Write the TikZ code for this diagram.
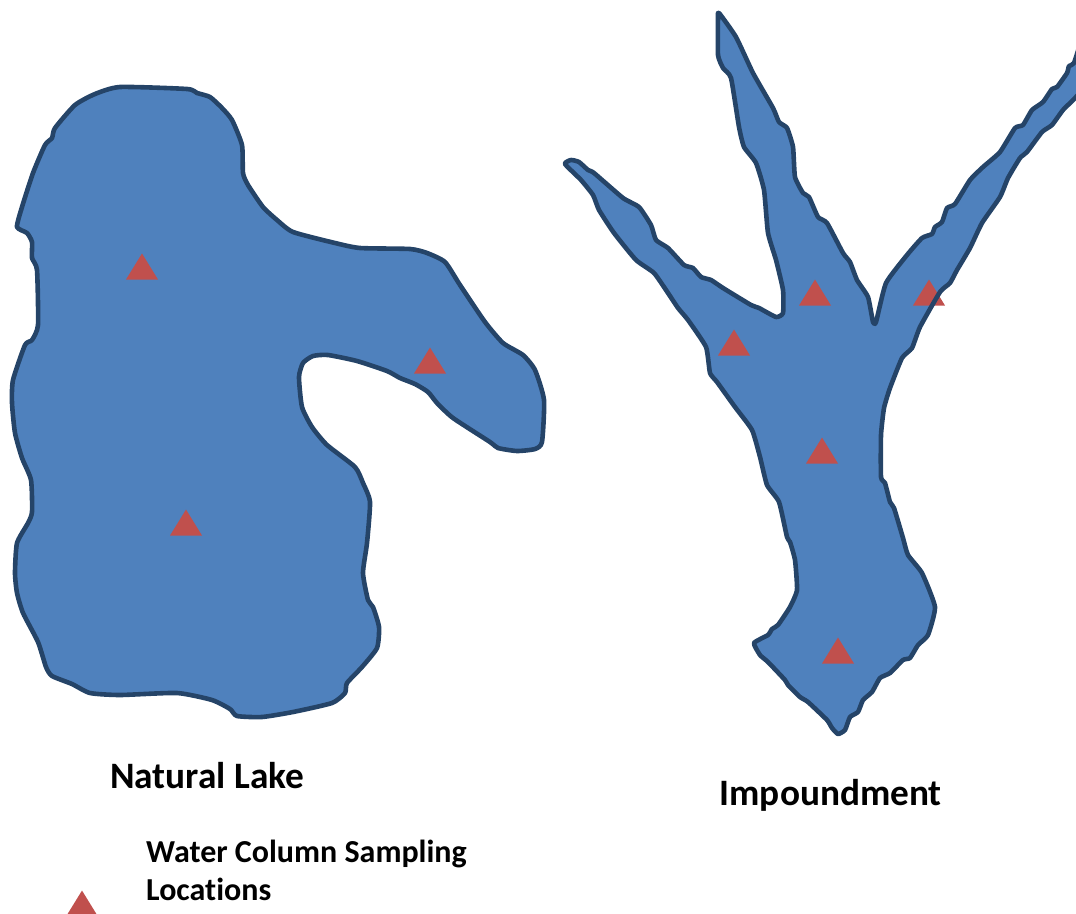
\documentclass[tikz,border=0pt]{standalone}
\usepackage{fontspec}
\setmainfont[Ligatures=NoCommon]{Carlito}
\usetikzlibrary{shapes.geometric}

\newcommand{\lakeshape}{plot[smooth cycle,tension=.35] coordinates {
    (120,87) (187,89) (197,93) (210,97) (222,108) (232,120) (242,145) (243,173) (248,185) (263,207) (277,220) (293,232)
    (335,243) (360,248) (410,249) (427,253) (445,262) (460,285) (485,322) (503,343) (523,355) (535,370) (544,400)
    (542,442) (535,449) (517,451) (498,448) (490,442) (453,418) (437,403) (428,392) (415,384) (400,378) (387,371)
    (357,361) (328,355) (313,356) (303,363) (299,377) (302,407) (312,427) (327,445) (355,467) (363,483) (370,502)
    (367,543) (363,573) (368,600) (373,607) (379,627) (377,648) (362,667) (347,683) (345,693) (332,703) (293,712)
    (262,717) (237,716) (230,709) (212,700) (177,693) (120,695) (90,693) (72,684) (52,676) (46,667) (38,642)
    (23,613) (17,593) (15,573) (17,543) (28,523) (32,512) (31,480) (22,458) (15,433) (12,403) (13,380) (25,345)
    (32,340) (38,325) (37,270) (32,258) (32,242) (27,233) (17,227) (22,207) (33,173) (45,145) (52,138) (55,128)
    (75,105) (95,94)}}
\newcommand{\impoundshape}{plot[smooth cycle,tension=.3] coordinates {
    (719,13) (736,37) (753,73) (773,108) (779,122) (787,128) (793,147) (795,177) (803,193) (809,197) (818,217)
    (827,223) (843,253) (850,262) (857,280) (868,297) (873,322) (876,322) (886,283) (907,255) (922,238) (932,234)
    (935,227) (942,222) (947,208) (955,204) (970,180) (983,167) (1000,152) (1015,128) (1023,125) (1032,110)
    (1043,102) (1052,89) (1057,87) (1067,73) (1069,66) (1074,63) (1084,35) (1088,80) (1076,97) (1063,110) (1052,125)
    (1042,132) (1027,152) (1020,158) (1008,178) (1000,197) (982,223) (970,248) (957,270) (950,283) (940,292)
    (920,327) (912,348) (902,358) (890,388) (884,408) (881,435) (881,477) (885,483) (890,502) (894,508) (903,538)
    (908,555) (922,573) (935,607) (928,635) (918,645) (910,658) (903,660) (890,673) (880,678) (872,692) (863,700)
    (858,712) (850,717) (845,730) (838,734) (832,728) (827,720) (808,702) (800,697) (788,685) (785,680) (768,662)
    (760,655) (754,643) (768,635) (772,629) (778,625) (790,607) (797,590) (795,560) (790,542) (787,537) (779,502)
    (767,485) (760,457) (752,430) (735,407) (717,382) (710,373) (706,347) (688,320) (678,308) (668,293) (654,273)
    (636,260) (614,233) (599,210) (593,195) (581,180) (565,164) (571,160) (579,162) (588,170) (594,173) (623,198)
    (639,207) (651,225) (656,240) (668,248) (684,265) (693,268) (701,277) (711,280) (723,288) (751,305) (759,308)
    (776,317) (783,313) (783,290) (776,260) (768,233) (764,190) (756,163) (744,147) (739,127) (731,78) (723,68)
    (718,55) (718,17)}}

\begin{document}
\begin{tikzpicture}[
    x=1pt,y=-1pt,
    waterfill/.style={fill=water},
    shoreline/.style={draw=shore,line width=4.6pt,line join=round},
    sample/.style={isosceles triangle,isosceles triangle stretches,shape border rotate=90,
        fill=marker,inner sep=0pt,minimum width=32pt,minimum height=26pt,anchor=apex},
    title/.style={font=\fontsize{37.3}{44}\selectfont\bfseries,anchor=base west,inner sep=0pt},
    legend/.style={font=\fontsize{32}{39}\selectfont\bfseries,anchor=base west,inner sep=0pt}
]
\definecolor{water}{HTML}{4F81BD}
\definecolor{shore}{HTML}{254468}
\definecolor{marker}{HTML}{C0504D}

\useasboundingbox (0,0) rectangle (1076,913);

% natural lake
\path[waterfill] \lakeshape;
\path[shoreline] \lakeshape;
\node[sample] (lakeA) at (142,253) {};
\node[sample] (lakeB) at (430,347) {};
\node[sample] (lakeC) at (186,509) {};

% impoundment
\path[waterfill] \impoundshape;
\node[sample] (impA) at (815,279) {};
\node[sample] (impB) at (929,279) {};
\node[sample] (impC) at (734,329) {};
\node[sample] (impD) at (822,437) {};
\node[sample] (impE) at (838,637) {};
\path[shoreline] \impoundshape;

% labels
\node[title] (lakelabel) at (110,788.5) {Natural Lake};
\node[title] (implabel) at (719.5,805.5) {Impoundment};
\node[sample] (legendmark) at (82,890) {};
\node[legend] (legendline) at (146,862) {Water Column Sampling};
\node[legend] (legendlinetwo) at (146,900) {Locations};

\end{tikzpicture}
\end{document}
